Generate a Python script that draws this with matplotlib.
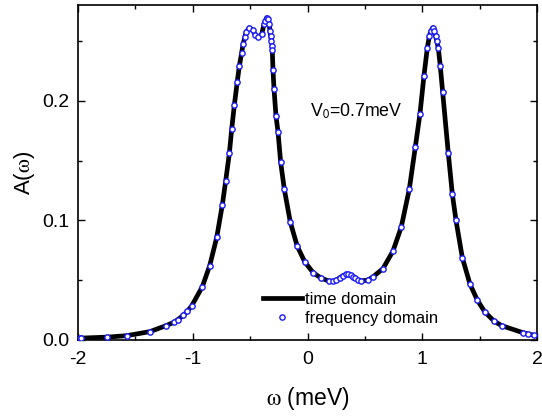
import matplotlib
matplotlib.use("Agg")
import matplotlib.pyplot as plt
from matplotlib.ticker import MultipleLocator, FuncFormatter

plt.rcParams['font.family'] = ['Liberation Sans', 'DejaVu Sans']
plt.rcParams['mathtext.fontset'] = 'stix'

# frequency-domain points
omega_freq = [-1.98, -1.97, -1.745, -1.576, -1.373, -1.233, -1.166, -1.131, -1.082, -1.047,
              -1.009, -0.917, -0.852, -0.791, -0.742, -0.713, -0.681, -0.661, -0.638, -0.612,
              -0.594, -0.574, -0.562, -0.545, -0.533, -0.507, -0.478, -0.455, -0.429, -0.399,
              -0.379, -0.368, -0.356, -0.342, -0.333, -0.327, -0.321, -0.315, -0.309, -0.307,
              -0.301, -0.292, -0.275, -0.257, -0.234, -0.202, -0.150, -0.089, -0.024, 0.051,
              0.120, 0.187, 0.222, 0.250, 0.283, 0.310, 0.335, 0.353, 0.375, 0.395, 0.414,
              0.440, 0.466, 0.525, 0.571, 0.658, 0.745, 0.817, 0.887, 0.940, 0.980, 1.015,
              1.044, 1.062, 1.074, 1.091, 1.105, 1.117, 1.126, 1.140, 1.157, 1.178, 1.227,
              1.262, 1.294, 1.349, 1.416, 1.480, 1.544, 1.625, 1.692, 1.881, 1.924, 1.974]
A_freq = [0.0015, 0.0016, 0.0024, 0.0036, 0.0070, 0.0120, 0.0147, 0.0170, 0.0206, 0.0240,
          0.0286, 0.0444, 0.0622, 0.0858, 0.1130, 0.1330, 0.1560, 0.1760, 0.1960, 0.2160,
          0.2290, 0.2400, 0.2470, 0.2536, 0.2575, 0.2610, 0.2590, 0.2550, 0.2530, 0.2556,
          0.2639, 0.2667, 0.2694, 0.2680, 0.2640, 0.2580, 0.2540, 0.2500, 0.2460, 0.2425,
          0.2260, 0.2100, 0.1875, 0.1740, 0.1486, 0.1260, 0.0986, 0.0783, 0.0653, 0.0561,
          0.0517, 0.0492, 0.0492, 0.0500, 0.0522, 0.0538, 0.0548, 0.0550, 0.0543, 0.0528,
          0.0514, 0.0500, 0.0494, 0.0500, 0.0528, 0.0597, 0.0744, 0.0944, 0.1260, 0.1617,
          0.1890, 0.2210, 0.2440, 0.2540, 0.2580, 0.2610, 0.2580, 0.2540, 0.2500, 0.2440,
          0.2290, 0.2070, 0.1560, 0.1220, 0.1000, 0.0689, 0.0467, 0.0333, 0.0236, 0.0158,
          0.0120, 0.0060, 0.0050, 0.0040]

# time-domain curve
omega_time = [-2.0] + omega_freq + [2.0]
A_time = [0.0014] + A_freq + [0.0035]

fig = plt.figure(figsize=(5.42, 4.16), dpi=100)
ax = fig.add_axes([0.1439, 0.1827, 0.8469, 0.8053])

ax.plot(omega_time, A_time, color='black', lw=3.4, label='time domain', zorder=2)
ax.plot(omega_freq, A_freq, linestyle='none', marker='o', ms=3.8, mfc='white',
        mec='#1a1aff', mew=1.0, label='frequency domain', zorder=3)

ax.set_xlim(-2, 2)
ax.set_ylim(0, 0.28)
ax.xaxis.set_major_locator(MultipleLocator(1))
ax.xaxis.set_minor_locator(MultipleLocator(0.5))
ax.yaxis.set_major_locator(MultipleLocator(0.1))
ax.yaxis.set_minor_locator(MultipleLocator(0.05))
ax.tick_params(which='both', direction='in', top=True, right=True, labelsize=14, width=1)
ax.tick_params(which='major', length=5)
ax.tick_params(which='minor', length=3)
ax.tick_params(axis='x', which='major', pad=8)
ax.tick_params(axis='y', which='major', pad=6)
ax.xaxis.set_major_formatter(FuncFormatter(lambda v, p: '%d' % round(v)))
ax.yaxis.set_major_formatter(FuncFormatter(lambda v, p: '%.1f' % v))
for s in ax.spines.values():
    s.set_linewidth(1.2)

ax.set_xlabel(r'$\mathrm{\omega}$ (meV)', fontsize=16.5, labelpad=12)
ax.set_ylabel(r'A($\mathrm{\omega}$)', fontsize=16, labelpad=4)

ax.text(0.02, 0.187, r'V$_\mathsf{0}$=0.7meV', fontsize=12.8)

leg = ax.legend(loc='upper left', bbox_to_anchor=(0.402, 0.143), frameon=False, fontsize=12,
                handlelength=2.35, handletextpad=0.2, labelspacing=0.22, borderpad=0.0,
                borderaxespad=0.0)

fig.savefig('out.png', dpi=100)
